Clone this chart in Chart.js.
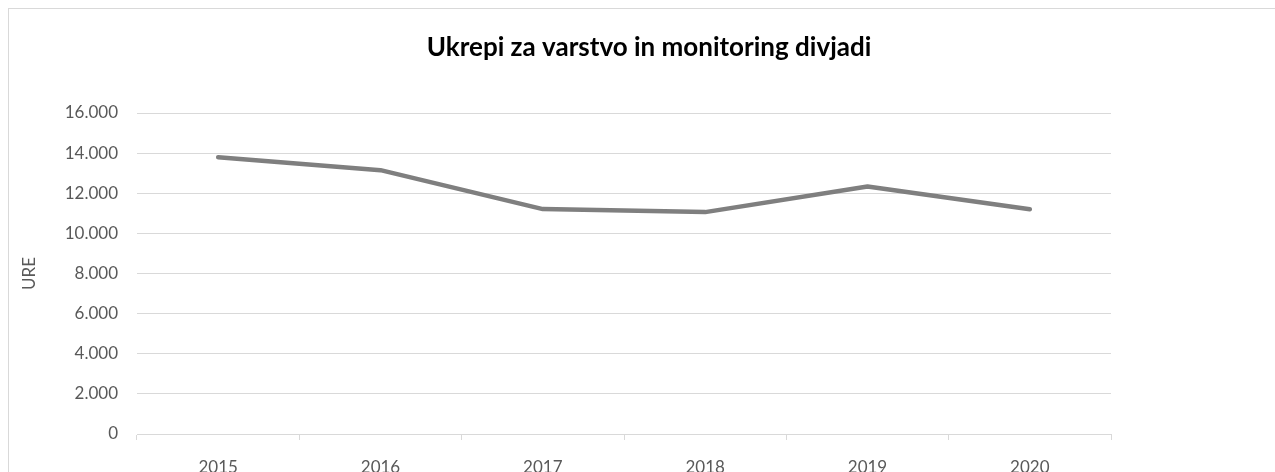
<!DOCTYPE html>
<html>
<head>
<meta charset="utf-8">
<script src="https://cdn.jsdelivr.net/npm/chart.js@4.4.1/dist/chart.umd.min.js"></script>
<style>
  html, body { margin: 0; padding: 0; background: #fff; overflow: hidden; }
  #wrap {
    position: absolute; left: 8px; top: 8px;
    width: 1290px; height: 472px;
    border: 1px solid #d9d9d9; background: #fff;
  }
</style>
</head>
<body>
<div id="wrap"><canvas id="chart" width="1290" height="472"></canvas></div>
<script>
// data
const years = ['2015', '2016', '2017', '2018', '2019', '2020'];
const hours = [13800, 13150, 11210, 11060, 12340, 11200];
const yTicks = [0, 2000, 4000, 6000, 8000, 10000, 12000, 14000, 16000];

const chartTitle = 'Ukrepi za varstvo in monitoring divjadi';
const axisTitle = 'URE';

const fontFamily = 'Lato, "Open Sans", sans-serif';
const textGrey = '#595959';

// thousands with a dot, as in the original
function fmt(v) {
    return String(v).replace(/\B(?=(\d{3})+(?!\d))/g, '.');
}

// title is centred on the whole frame, not on the plot area
const titlePlugin = {
    id: 'frameTitle',
    afterDraw(chart) {
        const ctx = chart.ctx;
        ctx.save();
        ctx.font = 'bold 26px ' + fontFamily;
        ctx.fillStyle = '#000';
        ctx.textAlign = 'center';
        ctx.textBaseline = 'middle';
        ctx.fillText(chartTitle, chart.width / 2 - 5, 39);
        ctx.restore();
    }
};

const ctx = document.getElementById('chart').getContext('2d');
new Chart(ctx, {
    type: 'line',
    data: {
        labels: years,
        datasets: [{
            label: chartTitle,
            data: hours,
            borderColor: '#7f7f7f',
            backgroundColor: '#7f7f7f',
            borderWidth: 4.5,
            borderCapStyle: 'round',
            borderJoinStyle: 'round',
            pointRadius: 0,
            tension: 0,
            fill: false
        }]
    },
    options: {
        responsive: false,
        animation: false,
        layout: { padding: { left: 0, right: 188, top: 104, bottom: 0 } },
        plugins: {
            legend: { display: false },
            tooltip: { enabled: false },
            title: { display: false }
        },
        scales: {
            x: {
                offset: true,
                grid: {
                    offset: true,
                    drawOnChartArea: false,
                    drawTicks: true,
                    tickLength: 6,
                    color: '#d9d9d9'
                },
                border: { display: true, color: '#d9d9d9' },
                ticks: {
                    color: textGrey,
                    padding: 17,
                    maxRotation: 0,
                    font: { family: fontFamily, size: 17 }
                },
                afterFit(scale) { scale.height = 47; }
            },
            y: {
                min: 0,
                max: 16000,
                afterBuildTicks(scale) {
                    scale.ticks = yTicks.map(v => ({ value: v }));
                },
                grid: { color: '#d9d9d9', drawTicks: false },
                border: { display: false },
                ticks: {
                    color: textGrey,
                    padding: 19,
                    font: { family: fontFamily, size: 17 },
                    callback: v => fmt(v)
                },
                title: {
                    display: true,
                    text: axisTitle,
                    color: textGrey,
                    padding: { top: 10, bottom: 0 },
                    font: { family: fontFamily, size: 17 }
                },
                afterFit(scale) { scale.width = 128; }
            }
        }
    },
    plugins: [titlePlugin]
});
</script>
</body>
</html>
